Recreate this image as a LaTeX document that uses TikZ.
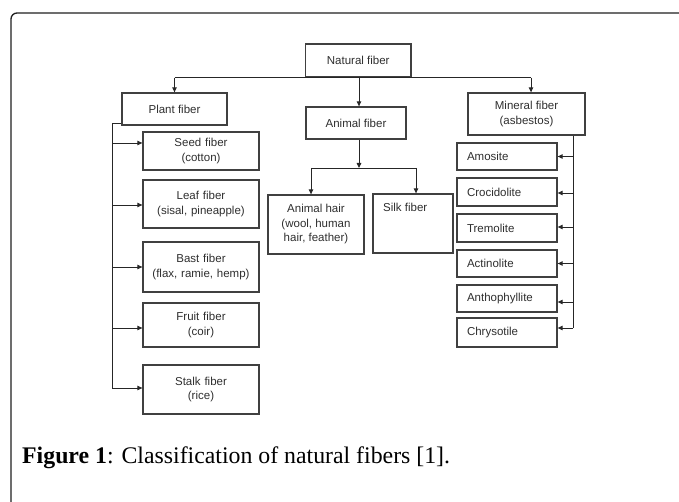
\documentclass[tikz,border=0pt]{standalone}
\usepackage{fontspec}
\setmainfont{Liberation Serif}
\newfontfamily\diagfont{Liberation Sans}
\usetikzlibrary{arrows.meta}
\begin{document}
\begin{tikzpicture}[x=1pt,y=-1pt,
  box/.style={draw=black!75, line width=1.3pt, inner sep=0pt, align=center,
    font=\diagfont\fontsize{11.5}{14.5}\selectfont, text=black!82},
  conn/.style={draw=black!85, line width=0.9pt},
  arr/.style={conn, -{Triangle[length=5pt,width=4.5pt]}},
  lbl/.style={font=\diagfont\fontsize{11.5}{14.5}\selectfont, text=black!82, inner sep=0pt},
  pbox/.style={box, minimum width=116, text width=110},
  mbox/.style={box, minimum width=100, text width=80, align=left}]
\useasboundingbox (0,0) rectangle (679,502);
\begin{scope}
\clip (0,0) rectangle (679,502);
\draw[line width=1.3pt, draw=black!88, rounded corners=6pt] (11,560) -- (11,13) -- (740,13);
\end{scope}

% top level
\node[box, minimum width=105.5, minimum height=33] (nat) at (358.25,60.5) {Natural fiber};
\node[box, minimum width=105, minimum height=32] (plant) at (174.5,109) {Plant fiber};
\node[box, minimum width=100, minimum height=32] (animal) at (356,123) {Animal fiber};
\node[box, minimum width=117, minimum height=42] (mineral) at (526.5,114) {Mineral fiber\\(asbestos)};

% plant children
\node[pbox, minimum height=38] (seed) at (201,151) {Seed fiber\\(cotton)};
\node[pbox, minimum height=48] (leaf) at (201,204) {Leaf fiber\\(sisal, pineapple)};
\node[pbox, minimum height=50] (bast) at (201,267) {Bast fiber\\(flax, ramie, hemp)};
\node[pbox, minimum height=44] (fruit) at (201,325) {Fruit fiber\\(coir)};
\node[pbox, minimum height=49] (stalk) at (201,389.5) {Stalk fiber\\(rice)};

% animal children
\node[box, minimum width=96, minimum height=59] (hair) at (316,224.5) {Animal hair\\(wool, human\\hair, feather)};
\node[box, minimum width=80, minimum height=59] (silk) at (413,223.5) {};
\node[lbl, anchor=west] (silkt) at (383,207) {Silk fiber};

% mineral children
\node[mbox, minimum height=27] (amo) at (507,156.5) {Amosite};
\node[mbox, minimum height=28] (cro) at (507,192) {Crocidolite};
\node[mbox, minimum height=28] (tre) at (507,228) {Tremolite};
\node[mbox, minimum height=27] (act) at (507,263.5) {Actinolite};
\node[mbox, minimum height=27] (ant) at (507,298.5) {Anthophyllite};
\node[mbox, minimum height=29] (chr) at (507,332.5) {Chrysotile};

% helper coordinates
\coordinate (aj) at (359,168);
\coordinate (hj) at (311,168);
\coordinate (sj) at (416,168);
\coordinate (mtop) at (531,0);
\coordinate (pv) at (112,0);
\coordinate (mv) at (573,0);

% level 1 connectors
\draw[conn] (plant.north |- nat.south) -- (mtop |- nat.south);
\draw[arr] (plant.north |- nat.south) -- (plant.north);
\draw[arr] (aj |- nat.south) -- (aj |- animal.north);
\draw[arr] (mtop |- nat.south) -- (mtop |- mineral.north);

% plant connectors
\draw[conn] ([yshift=2pt]plant.south west) -| ([yshift=1.5pt]stalk.west -| pv);
\draw[arr] ([yshift=8pt]seed.west -| pv) -- ([yshift=8pt]seed.west);
\draw[arr] ([yshift=-1pt]leaf.west -| pv) -- ([yshift=-1pt]leaf.west);
\draw[arr] (bast.west -| pv) -- (bast.west);
\draw[arr] ([yshift=-3pt]fruit.west -| pv) -- ([yshift=-3pt]fruit.west);
\draw[arr] ([yshift=1.5pt]stalk.west -| pv) -- ([yshift=1.5pt]stalk.west);

% animal connectors
\draw[arr] (aj |- animal.south) -- (aj);
\draw[conn] (hj) -- (sj);
\draw[arr] (hj) -- (hj |- hair.north);
\draw[arr] (sj) -- (sj |- silk.north);

% mineral connectors
\draw[conn] (mineral.south -| mv) -- ([yshift=4.5pt]chr.east -| mv);
\draw[arr] (amo.east -| mv) -- (amo.east);
\draw[arr] ([yshift=-1pt]cro.east -| mv) -- ([yshift=-1pt]cro.east);
\draw[arr] ([yshift=1pt]tre.east -| mv) -- ([yshift=1pt]tre.east);
\draw[arr] (act.east -| mv) -- (act.east);
\draw[arr] ([yshift=-3.5pt]ant.east -| mv) -- ([yshift=-3.5pt]ant.east);
\draw[arr] ([yshift=4.5pt]chr.east -| mv) -- ([yshift=4.5pt]chr.east);

% caption
\node[anchor=base west, inner sep=0pt, font=\fontsize{23.8}{28}\selectfont] (cap) at (22,463)
  {\textbf{Figure 1}: Classification of natural fibers [1].};
\end{tikzpicture}
\end{document}
